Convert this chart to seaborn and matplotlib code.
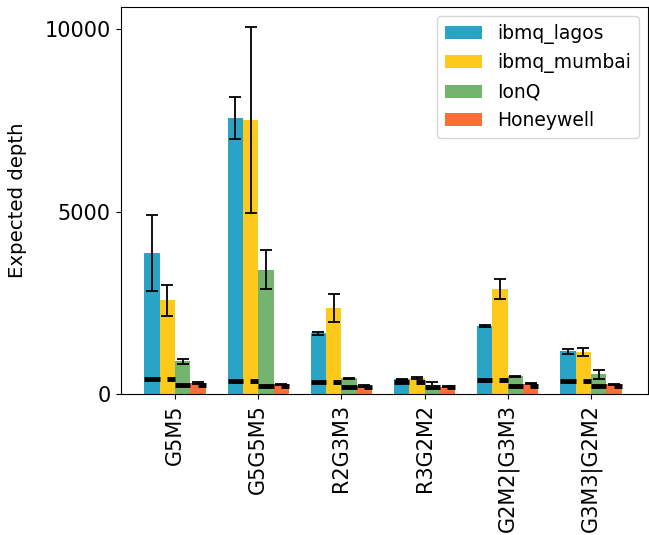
import matplotlib
matplotlib.use("Agg")
import matplotlib.pyplot as plt
import seaborn as sns
import pandas as pd
import numpy as np

circuits = ["G5M5", "G5G5M5", "R2G3M3", "R3G2M2", "G2M2|G3M3", "G3M3|G2M2"]
devices = ["ibmq_lagos", "ibmq_mumbai", "IonQ", "Honeywell"]

lagos = [3860, 7570, 1670, 410, 1860, 1175]
lagos_err = [1040, 580, 35, 15, 25, 65]
mumbai = [2570, 7510, 2360, 445, 2870, 1150]
mumbai_err = [430, 2550, 390, 15, 275, 105]
ionq = [900, 3410, 440, 265, 490, 545]
ionq_err = [70, 530, 15, 70, 15, 130]
honeywell = [310, 275, 225, 210, 290, 280]
honeywell_err = [20, 20, 20, 15, 15, 15]

# ideal (reference) depths shown as black marks
sc_ideal = [430, 365, 330, 346, 401, 364]
ion_ideal = [260, 225, 200, 195, 228, 228]

colors = ["#29a3c6", "#fdca1b", "#73b46e", "#fe6c37"]

values = [lagos, mumbai, ionq, honeywell]
errors = [lagos_err, mumbai_err, ionq_err, honeywell_err]
ideals = [sc_ideal, sc_ideal, ion_ideal, ion_ideal]

rows = []
for d, vals in zip(devices, values):
    for c, v in zip(circuits, vals):
        rows.append({"circuit": c, "device": d, "depth": v})
df = pd.DataFrame(rows)

fig = plt.figure(figsize=(6.49, 5.35), dpi=100)
ax = fig.add_axes([120.5 / 649, (535 - 394.3) / 535, (648 - 120.5) / 649, (394.3 - 7) / 535])

sns.barplot(data=df, x="circuit", y="depth", hue="device", order=circuits,
            hue_order=devices, palette=colors, width=0.736, errorbar=None,
            saturation=1, ax=ax)

bar_conts = list(ax.containers)[:4]
frac_start = [0.0, 0.45, 0.0, 0.47]
for k, cont in enumerate(bar_conts):
    bars = [b for b in cont.patches if b is not None]
    lefts = np.array([b.get_x() for b in bars])
    widths = np.array([b.get_width() for b in bars])
    xs = lefts + widths / 2
    ax.hlines(ideals[k], lefts + frac_start[k] * widths, lefts + widths,
              colors="black", linewidth=3.5, zorder=3)
    ax.errorbar(xs, values[k], yerr=errors[k], fmt="none", ecolor="black",
                elinewidth=1.3, capsize=4, capthick=1.3, zorder=4)

ax.set_xlim(-0.655, 5.685)
ax.set_ylim(0, 10600)
ax.set_yticks([0, 5000, 10000])
ax.set_xlabel("")
ax.set_ylabel("Expected depth", fontsize=14.2, labelpad=12.5)
ax.tick_params(axis="both", labelsize=15)
plt.setp(ax.get_xticklabels(), rotation=90)
ax.legend(loc="upper right", fontsize=13.5)

fig.savefig("out.png", dpi=100)
